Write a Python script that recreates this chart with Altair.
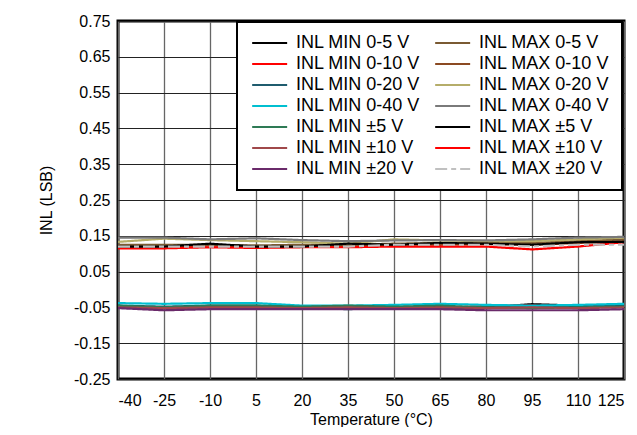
import altair as alt
import pandas as pd

temps = [-40, -25, -10, 5, 20, 35, 50, 65, 80, 95, 110, 125]

min_0_5   = [-0.050, -0.050, -0.050, -0.050, -0.050, -0.050, -0.050, -0.050, -0.050, -0.041, -0.045, -0.045]
min_0_10  = [-0.048, -0.050, -0.048, -0.050, -0.050, -0.050, -0.050, -0.052, -0.046, -0.045, -0.048, -0.045]
min_0_20  = [-0.045, -0.048, -0.045, -0.045, -0.050, -0.055, -0.050, -0.053, -0.050, -0.050, -0.048, -0.045]
min_0_40  = [-0.038, -0.040, -0.038, -0.038, -0.045, -0.045, -0.043, -0.040, -0.043, -0.045, -0.043, -0.040]
min_pm5   = [-0.045, -0.050, -0.045, -0.045, -0.048, -0.045, -0.048, -0.045, -0.050, -0.052, -0.050, -0.048]
min_pm10  = [-0.050, -0.052, -0.050, -0.050, -0.052, -0.050, -0.052, -0.050, -0.052, -0.050, -0.052, -0.050]
min_pm20  = [-0.052, -0.058, -0.055, -0.055, -0.055, -0.055, -0.055, -0.055, -0.058, -0.058, -0.058, -0.055]
max_0_5   = [0.125, 0.125, 0.125, 0.123, 0.125, 0.125, 0.128, 0.130, 0.130, 0.130, 0.135, 0.140]
max_0_10  = [0.122, 0.120, 0.123, 0.120, 0.122, 0.122, 0.125, 0.125, 0.127, 0.125, 0.130, 0.135]
max_0_20  = [0.133, 0.142, 0.138, 0.135, 0.132, 0.128, 0.140, 0.137, 0.135, 0.135, 0.140, 0.145]
max_0_40  = [0.145, 0.145, 0.140, 0.143, 0.138, 0.135, 0.137, 0.138, 0.137, 0.140, 0.145, 0.147]
max_pm5   = [0.120, 0.120, 0.128, 0.120, 0.120, 0.128, 0.125, 0.130, 0.128, 0.125, 0.132, 0.133]
max_pm10  = [0.115, 0.115, 0.118, 0.116, 0.118, 0.118, 0.120, 0.120, 0.120, 0.112, 0.120, 0.132]
max_pm20  = [0.120, 0.120, 0.120, 0.120, 0.120, 0.120, 0.125, 0.125, 0.125, 0.120, 0.125, 0.125]

series_names = [
    "INL MIN 0-5 V", "INL MIN 0-10 V", "INL MIN 0-20 V", "INL MIN 0-40 V",
    "INL MIN ±5 V", "INL MIN ±10 V", "INL MIN ±20 V",
    "INL MAX 0-5 V", "INL MAX 0-10 V", "INL MAX 0-20 V", "INL MAX 0-40 V",
    "INL MAX ±5 V", "INL MAX ±10 V", "INL MAX ±20 V",
]
series_values = [
    min_0_5, min_0_10, min_0_20, min_0_40, min_pm5, min_pm10, min_pm20,
    max_0_5, max_0_10, max_0_20, max_0_40, max_pm5, max_pm10, max_pm20,
]
series_colors = [
    "#000000", "#ff0000", "#1f5c6e", "#00bfd0", "#2e7a55", "#a0484a", "#6a2a6a",
    "#7a5a32", "#8b4a22", "#b5ad6a", "#7a7a7a", "#000000", "#ff0000", "#c0c0c0",
]
series_widths = [2.2] * 11 + [3.8, 3.8, 3.8]
series_dash = [[1, 0]] * 13 + [[12, 4, 5, 4]]

# drawing order: MIN group, then MAX group, dashed last
draw_order = [0, 1, 2, 3, 4, 5, 6, 8, 7, 9, 10, 12, 11, 13]
rows = []
for i in draw_order:
    for t, v in zip(temps, series_values[i]):
        rows.append({"Temperature": t, "INL": v, "series": series_names[i], "ord": i})
df = pd.DataFrame(rows)

x_ticks = temps
y_ticks = [-0.25, -0.15, -0.05, 0.05, 0.15, 0.25, 0.35, 0.45, 0.55, 0.65, 0.75]

font = "Liberation Sans"

legend = alt.Legend(
    title=None, orient="none", legendX=119, legendY=1, columns=2,
    symbolType="M-1,0H5", symbolSize=136, labelFontSize=18, labelFont=font,
    labelColor="black", labelOffset=29, rowPadding=3, columnPadding=9,
    padding=12, strokeColor="black", fillColor="white", labelLimit=300,
)

fix_minus = "replace(datum.label, '\u2212', '-')"

chart = alt.Chart(df).mark_line(clip=True).encode(
    x=alt.X("Temperature:Q", scale=alt.Scale(domain=[-40, 125], nice=False, zero=False),
            axis=alt.Axis(values=x_ticks, title="Temperature (°C)", format="d", labelExpr=fix_minus)),
    y=alt.Y("INL:Q", scale=alt.Scale(domain=[-0.25, 0.75], nice=False, zero=False),
            axis=alt.Axis(values=y_ticks, title="INL (LSB)", format=".2f", labelExpr=fix_minus)),
    color=alt.Color("series:N", scale=alt.Scale(domain=series_names, range=series_colors), legend=legend),
    strokeWidth=alt.StrokeWidth("series:N", scale=alt.Scale(domain=series_names, range=series_widths), legend=legend),
    strokeDash=alt.StrokeDash("series:N", scale=alt.Scale(domain=series_names, range=series_dash), legend=legend),
    detail="ord:N",
).properties(
    width=506, height=358,
    autosize=alt.AutoSizeParams(type="none"),
    padding={"left": 110, "top": 13, "right": 5, "bottom": 48},
).configure_view(
    stroke="black", strokeWidth=3,
).configure_axis(
    domain=False, ticks=False, grid=True, gridWidth=1,
    labelFont=font, labelFontSize=16, labelColor="black",
    titleFont=font, titleFontSize=16, titleColor="black", titleFontWeight="normal",
).configure_axisX(
    labelPadding=13, titlePadding=3, gridColor="#666666", gridWidth=1.3,
).configure_axisY(
    labelPadding=8, titlePadding=19, gridColor="#222222",
).configure_legend(
    strokeWidth=2,
)

chart.save("out.html", embed_options={"renderer": "svg", "actions": False})
